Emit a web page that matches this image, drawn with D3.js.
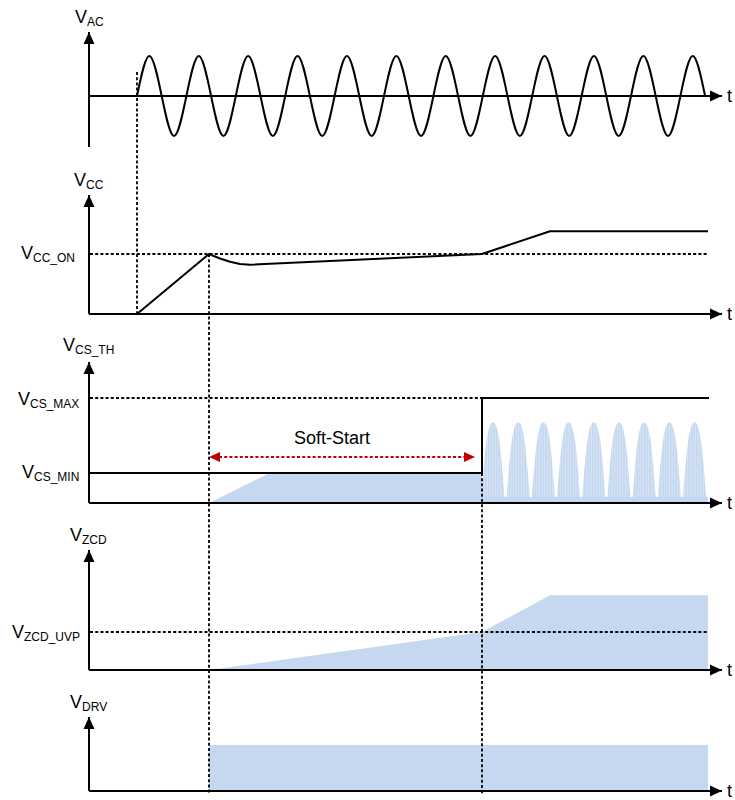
<!DOCTYPE html>
<html>
<head>
<meta charset="utf-8">
<script src="https://cdn.jsdelivr.net/npm/d3@7"></script>
<style>
  body { margin: 0; background: #fff; }
  svg { font-family: "Liberation Sans", Arial, sans-serif; }
</style>
</head>
<body>
<svg id="chart" width="735" height="800"></svg>
<script>
// time in arbitrary units, 0 = origin of every panel
const acZeros = [48, 72.7, 97.4, 122.1, 146.8, 171.5, 196.2, 220.9, 245.6, 270.3, 295, 319.7,
  344.4, 369.1, 393.8, 418.5, 443.2, 467.9, 492.6, 517.3, 542, 566.7, 591.4, 616.1];
const acPeaks = [1, -1, 1, -1, 1, -1, 1, -1, 1, -1, 1, -1, 1, -1, 1, -1, 1, -1, 1, -1, 1, -1, 1];

const vccTimes = [0, 48, 120, 131, 141, 151, 161, 393, 461, 619];
const vccValues = [0, 0, 1, 0.925, 0.87, 0.833, 0.82, 1, 1.38, 1.38];

const csThTimes = [0, 393, 393, 620];
const csThValues = [0.286, 0.286, 1, 1];
const csRampTimes = [120, 181, 393, 393];
const csRampValues = [0, 0.286, 0.286, 0];
const csPulseCenters = [404, 429.2, 454.4, 479.6, 504.8, 530, 555.2, 580.4, 605.6];
const csPulsePeaks = [0.77, 0.77, 0.77, 0.77, 0.77, 0.77, 0.77, 0.77, 0.77];
const csPulseHalfWidth = 11.5;
const csPulseFloor = 0.057;
const softStart = [120, 386];

const zcdTimes = [120, 393, 461, 619, 619];
const zcdValues = [0, 1, 1.97, 1.97, 0];

const drvTimes = [120, 619];
const drvValue = 1;

const markers = { acOn: 48, vccOn: 120, uvp: 393, end: 619 };

const BLUE = '#c6d8ef';
const svg = d3.select('#chart');

const x = d3.scaleLinear().domain([0, 620]).range([89, 709]);
const xAxisScale = d3.scaleLinear().domain([0, x.invert(722)]).range([89, 722]);

const acY = d3.scaleLinear().domain([-1, 1]).range([136, 56]);
const vccY = d3.scaleLinear().domain([0, 1]).range([314, 254]);
const csY = d3.scaleLinear().domain([0, 1]).range([503, 398]);
const zcdY = d3.scaleLinear().domain([0, 1]).range([670, 632]);
const drvY = d3.scaleLinear().domain([0, 1]).range([791, 745]);

const defs = svg.append('defs');
const pat = defs.append('pattern')
  .attr('id', 'stripes')
  .attr('patternUnits', 'userSpaceOnUse')
  .attr('width', 2.6).attr('height', 10);
pat.append('rect').attr('width', 2.6).attr('height', 10).attr('fill', BLUE);
pat.append('line').attr('x1', 1.3).attr('x2', 1.3).attr('y1', 0).attr('y2', 10)
  .attr('stroke', '#e3ecf8').attr('stroke-width', 0.6);

const dash = '3,2.2';

// ---- blue fills first (under the lines)
const area = (y) => d3.area().x(d => x(d[0])).y0(y(0)).y1(d => y(d[1]));

svg.append('path')
  .datum(d3.zip(csRampTimes, csRampValues))
  .attr('fill', BLUE)
  .attr('d', area(csY));

svg.append('rect')
  .attr('x', x(markers.uvp)).attr('width', x(markers.end) - x(markers.uvp))
  .attr('y', csY(csPulseFloor)).attr('height', csY(0) - csY(csPulseFloor))
  .attr('fill', BLUE);

// each pulse envelope: base, shoulders, crest
const humpShape = [[-1, 0], [-0.55, 0.76], [0, 1], [0.55, 0.76], [1, 0]];
const hump = d3.line().x(d => x(d[0])).y(d => csY(d[1])).curve(d3.curveNatural);
svg.append('g').selectAll('path')
  .data(d3.zip(csPulseCenters, csPulsePeaks))
  .join('path')
  .attr('fill', 'url(#stripes)')
  .attr('d', ([c, p]) => hump(humpShape.map(([u, f]) =>
    [c + u * csPulseHalfWidth, csPulseFloor + f * (p - csPulseFloor)])) + 'Z');

svg.append('path')
  .datum(d3.zip(zcdTimes, zcdValues))
  .attr('fill', BLUE)
  .attr('d', area(zcdY));

svg.append('rect')
  .attr('x', x(drvTimes[0])).attr('width', x(drvTimes[1]) - x(drvTimes[0]))
  .attr('y', drvY(drvValue)).attr('height', drvY(0) - drvY(drvValue))
  .attr('fill', BLUE);

// ---- dashed reference lines
const hDash = (y, v, t0, t1) => svg.append('line')
  .attr('x1', x(t0)).attr('x2', x(t1))
  .attr('y1', y(v)).attr('y2', y(v))
  .attr('stroke', '#000').attr('stroke-width', 1.8).attr('stroke-dasharray', dash);

hDash(vccY, 1, 1, markers.end);
hDash(csY, 1, 1, markers.uvp);
hDash(zcdY, 1, 1, markers.end);

const vDash = (t, y1, y2) => svg.append('line')
  .attr('x1', x(t)).attr('x2', x(t))
  .attr('y1', y1).attr('y2', y2)
  .attr('stroke', '#000').attr('stroke-width', 1.8).attr('stroke-dasharray', dash);

vDash(markers.acOn, 72, vccY(0));
vDash(markers.vccOn, vccY(1), 794);
vDash(markers.uvp, csY(csThValues[0]), 794);

// ---- axes
const drawAxes = (y, yBottom, yTip) => {
  const g = svg.append('g');
  const xa = g.append('g')
    .attr('transform', `translate(0,${y(0)})`)
    .call(d3.axisBottom(xAxisScale).tickValues([]).tickSizeOuter(0).offset(0));
  xa.select('.domain').attr('stroke-width', 2);

  const yAxisScale = d3.scaleLinear().domain([0, 1]).range([yBottom, yTip]);
  const ya = g.append('g')
    .attr('transform', `translate(${x(0)},0)`)
    .call(d3.axisLeft(yAxisScale).tickValues([]).tickSizeOuter(0).offset(0));
  ya.select('.domain').attr('stroke-width', 2);

  // arrowheads
  g.append('path')
    .attr('d', `M${xAxisScale.range()[1]},${y(0)} l-12,-5.5 v11 Z`);
  g.append('path')
    .attr('d', `M${x(0)},${yTip} l-5.5,12 h11 Z`);

  g.append('text')
    .attr('x', 727).attr('y', y(0) + 6)
    .attr('font-size', 18)
    .text('t');
};

drawAxes(acY, 147, 32);
drawAxes(vccY, vccY(0), 195);
drawAxes(csY, csY(0), 362);
drawAxes(zcdY, zcdY(0), 550);
drawAxes(drvY, drvY(0), 717);

// ---- waveforms
const acPts = [];
acZeros.forEach((t, i) => {
  acPts.push([t, 0]);
  if (i < acPeaks.length) acPts.push([(t + acZeros[i + 1]) / 2, acPeaks[i]]);
});
svg.append('path')
  .datum(acPts)
  .attr('fill', 'none').attr('stroke', '#000').attr('stroke-width', 2)
  .attr('d', d3.line().x(d => x(d[0])).y(d => acY(d[1])).curve(d3.curveNatural));

svg.append('path')
  .datum(d3.zip(vccTimes, vccValues))
  .attr('fill', 'none').attr('stroke', '#000').attr('stroke-width', 2)
  .attr('stroke-linejoin', 'round')
  .attr('d', d3.line().x(d => x(d[0])).y(d => vccY(d[1])));

svg.append('path')
  .datum(d3.zip(csThTimes, csThValues))
  .attr('fill', 'none').attr('stroke', '#000').attr('stroke-width', 2)
  .attr('d', d3.line().x(d => x(d[0])).y(d => csY(d[1])));

// ---- soft-start arrow
const ssY = csY(0.438);
svg.append('line')
  .attr('x1', x(softStart[0]) + 10).attr('x2', x(softStart[1]) - 10)
  .attr('y1', ssY).attr('y2', ssY)
  .attr('stroke', '#c00000').attr('stroke-width', 1.8).attr('stroke-dasharray', dash);
svg.append('path').attr('fill', '#c00000')
  .attr('d', `M${x(softStart[0])},${ssY} l11,-5 v10 Z`);
svg.append('path').attr('fill', '#c00000')
  .attr('d', `M${x(softStart[1])},${ssY} l-11,-5 v10 Z`);
svg.append('text')
  .attr('x', x(243)).attr('y', 444)
  .attr('text-anchor', 'middle').attr('font-size', 18)
  .text('Soft-Start');

// ---- labels
const labels = [
  { x: 75, y: 23, main: 'V', sub: 'AC' },
  { x: 74, y: 186, main: 'V', sub: 'CC' },
  { x: 21, y: 259, main: 'V', sub: 'CC_ON' },
  { x: 63, y: 351, main: 'V', sub: 'CS_TH' },
  { x: 18, y: 405, main: 'V', sub: 'CS_MAX' },
  { x: 22, y: 478, main: 'V', sub: 'CS_MIN' },
  { x: 70, y: 541, main: 'V', sub: 'ZCD' },
  { x: 12, y: 638, main: 'V', sub: 'ZCD_UVP' },
  { x: 70, y: 708, main: 'V', sub: 'DRV' }
];
const lab = svg.append('g').selectAll('text')
  .data(labels)
  .join('text')
  .attr('x', d => d.x).attr('y', d => d.y)
  .attr('font-size', 18);
lab.append('tspan').text(d => d.main);
lab.append('tspan').attr('font-size', 12).attr('dy', 3).text(d => d.sub);
</script>
</body>
</html>
